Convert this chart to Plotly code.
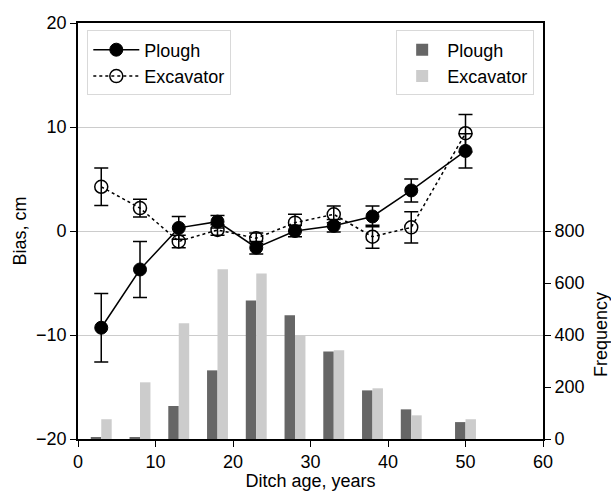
import plotly.graph_objects as go

# ---- data ----
age = [3, 8, 13, 18, 23, 28, 33, 38, 43, 50]
plough_bias = [-9.3, -3.7, 0.3, 0.9, -1.6, 0.0, 0.5, 1.4, 3.9, 7.7]
plough_err = [3.3, 2.7, 1.1, 0.6, 0.6, 0.55, 0.6, 1.0, 1.1, 1.65]
excav_bias = [4.25, 2.2, -1.0, 0.1, -0.7, 0.8, 1.6, -0.55, 0.35, 9.4]
excav_err = [1.8, 0.85, 0.6, 0.5, 0.5, 0.8, 0.8, 1.1, 1.5, 1.8]
plough_freq = [4, 4, 127, 264, 533, 476, 337, 187, 114, 65]
excav_freq = [76, 218, 445, 653, 637, 400, 341, 195, 91, 76]

FONT = "Liberation Sans, Arial, sans-serif"
BLACK = "#000000"

fig = go.Figure()

# bars on primary (frequency) axis, drawn beneath lines
fig.add_trace(go.Bar(x=age, y=plough_freq, name="Plough", marker_color="#666666",
                     marker_line_width=0, legend="legend2", yaxis="y"))
fig.add_trace(go.Bar(x=age, y=excav_freq, name="Excavator", marker_color="#cccccc",
                     marker_line_width=0, legend="legend2", yaxis="y"))

# bias lines on overlaying axis
fig.add_trace(go.Scatter(
    x=age, y=plough_bias, name="Plough", mode="lines+markers", yaxis="y2",
    line=dict(color=BLACK, width=1.5),
    marker=dict(symbol="circle", size=13, color=BLACK, line=dict(color=BLACK, width=1)),
    error_y=dict(type="data", array=plough_err, color=BLACK, thickness=1.5, width=7),
    legend="legend",
))
fig.add_trace(go.Scatter(
    x=age, y=excav_bias, name="Excavator", mode="lines+markers", yaxis="y2",
    line=dict(color=BLACK, width=1.5, dash="dot"),
    marker=dict(symbol="circle-open", size=13, color=BLACK, line=dict(color=BLACK, width=1.5)),
    error_y=dict(type="data", array=excav_err, color=BLACK, thickness=1.5, width=7),
    legend="legend",
))

fig.update_layout(
    width=611, height=491,
    margin=dict(l=78, r=68, t=23, b=52, autoexpand=False),
    paper_bgcolor="white", plot_bgcolor="white",
    font=dict(family=FONT, size=18, color=BLACK),
    barmode="group", bargap=0.46, bargroupgap=0,
    xaxis=dict(
        range=[0, 60], tickvals=[0, 10, 20, 30, 40, 50, 60],
        showgrid=False, zeroline=False,
        showline=True, linecolor=BLACK, linewidth=1.6, mirror=True,
        ticks="outside", ticklen=6, tickwidth=1.3, tickcolor=BLACK,
        title=dict(text="Ditch age, years", standoff=5, font=dict(size=18)),
    ),
    yaxis=dict(
        side="right", range=[0, 1600], tickvals=[0, 200, 400, 600, 800],
        showgrid=False, zeroline=False,
        showline=True, linecolor=BLACK, linewidth=1.6,
        ticks="outside", ticklen=6, tickwidth=1.3, tickcolor=BLACK,
        minor=dict(tickvals=[400, 800, 1200], showgrid=True, gridcolor="#cccccc",
                   gridwidth=1.2, ticks=""),
    ),
    yaxis2=dict(
        overlaying="y", side="left", range=[-20, 20], tickvals=[-20, -10, 0, 10, 20],
        showgrid=False, zeroline=False,
        showline=True, linecolor=BLACK, linewidth=1.6,
        ticks="outside", ticklen=6, tickwidth=1.3, tickcolor=BLACK,
        title=dict(text="Bias, cm", standoff=5, font=dict(size=18)),
    ),
    legend=dict(
        x=0.02, y=0.982, xanchor="left", yanchor="top",
        bgcolor="rgba(255,255,255,0.85)", bordercolor="#d9d9d9", borderwidth=1,
        font=dict(size=18), tracegroupgap=0, itemwidth=46,
    ),
    legend2=dict(
        x=0.981, y=0.982, xanchor="right", yanchor="top",
        bgcolor="rgba(255,255,255,0.85)", bordercolor="#d9d9d9", borderwidth=1,
        font=dict(size=18), tracegroupgap=0, itemwidth=40,
    ),
    showlegend=True,
)

fig.add_annotation(
    text="Frequency", xref="paper", yref="y", x=1.0, y=400,
    xanchor="center", yanchor="middle", xshift=58, textangle=-90,
    showarrow=False, font=dict(size=18, color=BLACK),
)

fig.write_html("out.html")
